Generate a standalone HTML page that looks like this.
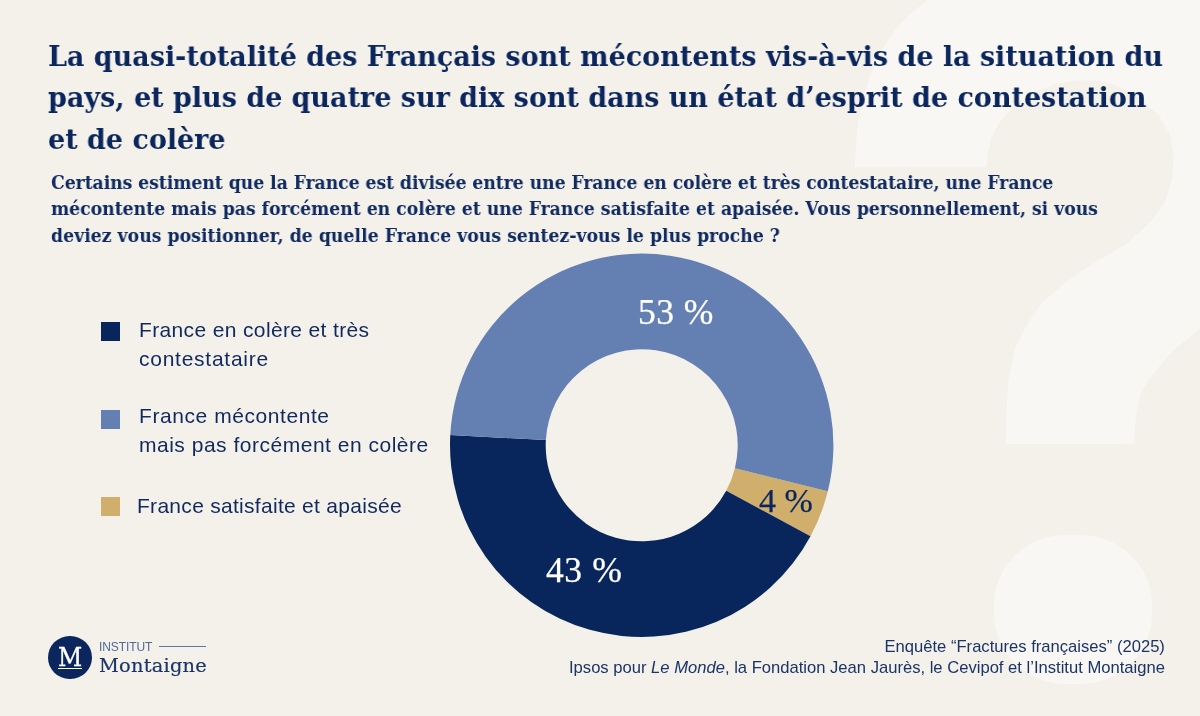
<!DOCTYPE html>
<html lang="fr">
<head>
<meta charset="utf-8">
<title>Fractures françaises 2025 – Institut Montaigne</title>
<style>
  html, body { margin: 0; padding: 0; }
  body { width: 1200px; height: 716px; overflow: hidden; background: #f4f1eb; }
  .slide { position: relative; width: 1200px; height: 716px; overflow: hidden; background: #f4f1eb; color: #0a265d; }
  .abs { position: absolute; white-space: nowrap; }
  h1, .question, .tx, .pct, .logo-m, .logo-inst, .logo-name, .source, .qmark { will-change: transform; }

  /* big decorative question mark watermark */
  .qmark { position: absolute; left: 814.2px; top: -185px; font-family: "Liberation Sans", "DejaVu Sans", sans-serif; font-weight: bold;
           font-size: 986px; line-height: 1; color: #f9f7f3; transform-origin: 0 0; transform: scaleX(0.895);
           clip-path: polygon(0 0, 700px 0, 700px 628.8px, 205px 628.8px, 205px 352.2px, 0 352.2px); }
  .qpatch { position: absolute; left: 0; top: 0; width: 1200px; height: 716px; background: #f9f7f3;
            clip-path: polygon(1100px 80.5px, 1111.7px 83.7px, 1139.7px 97.7px, 1159.2px 115.9px, 1170.4px 135.4px, 1173.7px 155px, 1171.8px 180px, 1164.8px 202.3px, 1150.8px 221.9px, 1125.7px 244.2px, 1092.2px 263.8px, 1064.2px 283.4px, 1041.9px 302.9px, 1026.5px 325.3px, 1015.4px 347.6px, 1008.4px 380px, 1006.5px 410px, 1005.6px 443.8px, 1134px 443.8px, 1136px 415px, 1140px 395px, 1148px 380px, 1156.4px 370px, 1173.2px 350.4px, 1200px 328px, 1200px 40px, 1035px 40px, 1005px 80px, 985px 105px, 975px 135px, 975px 167.2px, 987px 167.2px, 987.4px 153.9px, 991.3px 138.2px, 999.1px 122.6px, 1012.8px 106.9px, 1032.3px 93.2px, 1053.9px 84.4px, 1077.3px 80.5px); }
  .qpatch2 { position: absolute; left: 0; top: 0; width: 1200px; height: 716px; background: #f9f7f3;
            clip-path: polygon(855px 167.2px, 855.6px 150px, 857.7px 125.7px, 862.5px 100px, 870px 75px, 880.5px 52px, 895px 30px, 910px 14px, 928px 0px, 975px 0px, 915px 60px, 885px 120px, 870px 167.2px); }
  .qdot { position: absolute; left: 993.5px; top: 534.5px; width: 158.6px; height: 149.5px; background: #f9f7f3; border-radius: 72px / 70px; }

  h1 { margin: 0; position: absolute; left: 47.6px; top: 36.2px; white-space: nowrap;
       font-family: "DejaVu Serif", "Liberation Serif", serif; font-weight: bold; font-size: 28.6px; line-height: 41.25px;
       color: #0a265d; transform-origin: 0 0; transform: scaleX(0.943); }
  .question { margin: 0; position: absolute; left: 51px; top: 168.5px; white-space: nowrap;
       font-family: "DejaVu Serif", "Liberation Serif", serif; font-weight: bold; font-size: 18.8px; line-height: 26.4px;
       color: #0f2a61; transform-origin: 0 0; transform: scaleX(0.9174); }

  .legend { position: absolute; left: 0; top: 0; font-family: "Liberation Sans", "DejaVu Sans", sans-serif; font-size: 21px; line-height: 29px; color: #10295f; }
  .legend .sw { position: absolute; left: 101px; width: 19px; height: 19px; }
  .legend .tx { position: absolute; white-space: nowrap; letter-spacing: 0.25px; }

  .pct { position: absolute; white-space: nowrap; -webkit-text-stroke: 0.25px currentColor; font-family: "Liberation Serif", "DejaVu Serif", serif; font-size: 35.5px; line-height: 40px; }

  .logo-circle { position: absolute; left: 48px; top: 635.6px; width: 44px; height: 43.8px; border-radius: 50%; background: #0a265d; }
  .logo-m { position: absolute; left: 48px; top: 640.8px; -webkit-text-stroke: 0.35px #fff; width: 44px; text-align: center; color: #fff;
            font-family: "DejaVu Serif Condensed", "DejaVu Serif", "Liberation Serif", serif; font-size: 26.3px; line-height: 32px; }
  .logo-bar { position: absolute; left: 58px; top: 667.8px; width: 24px; height: 1.1px; background: #fff; }
  .logo-inst { position: absolute; left: 99.3px; top: 639px; letter-spacing: -0.08px; font-family: "Liberation Sans", "DejaVu Sans", sans-serif; font-size: 12px; line-height: 16px;
               color: #4f6898; white-space: nowrap; }
  .logo-line { position: absolute; left: 159px; top: 646.1px; width: 46.6px; height: 1.2px; background: #5f77a5; }
  .logo-name { position: absolute; left: 99.3px; top: 653px; letter-spacing: 0.22px; font-family: "DejaVu Serif", "Liberation Serif", serif; font-size: 19.4px; line-height: 26px;
               color: #1c3568; white-space: nowrap; -webkit-text-stroke: 0.2px #1c3568; }

  .source { position: absolute; right: 35.6px; top: 636.6px; text-align: right; white-space: nowrap;
            font-family: "Liberation Sans", "DejaVu Sans", sans-serif; font-size: 16.6px; line-height: 20.8px; color: #1a3468; }
</style>
</head>
<body>
<div class="slide">
  <div class="qmark" aria-hidden="true">?</div>
  <div class="qpatch"></div>
  <div class="qpatch2"></div>
  <div class="qdot"></div>

  <h1>La quasi-totalité des Français sont mécontents vis-à-vis de la situation du<br>pays, et plus de quatre sur dix sont dans un état d’esprit de contestation<br>et de colère</h1>

  <p class="question"><span style="letter-spacing:-0.047px">Certains estiment que la France est divisée entre une France en colère et très contestataire, une France</span><br>mécontente mais pas forcément en colère et une France satisfaite et apaisée. Vous personnellement, si vous<br><span style="letter-spacing:0.045px">deviez vous positionner, de quelle France vous sentez-vous le plus proche ?</span></p>

  <div class="legend">
    <div class="sw" style="top:322px;background:#08265c"></div>
    <div class="tx" style="left:139.2px;top:315px"><span style="letter-spacing:0.36px">France en colère et très</span><br><span style="letter-spacing:0.74px">contestataire</span></div>
    <div class="sw" style="top:409.6px;background:#647fb2"></div>
    <div class="tx" style="left:139.2px;top:401px"><span style="letter-spacing:0.57px">France mécontente</span><br><span style="letter-spacing:0.51px">mais pas forcément en colère</span></div>
    <div class="sw" style="top:496.5px;background:#d0ae6c"></div>
    <div class="tx" style="left:136.5px;top:491px"><span style="letter-spacing:0.29px">France satisfaite et apaisée</span></div>
  </div>

  <svg class="abs" style="left:0;top:0" width="1200" height="716" viewBox="0 0 1200 716">
    <path d="M827.79 491.35A191.7 191.7 0 0 1 810.49 536.18L726.23 490.81A96.0 96.0 0 0 0 734.89 468.36Z" fill="#d0ae6c"/>
    <path d="M810.49 536.18A191.7 191.7 0 0 1 450.28 434.93L545.84 440.11A96.0 96.0 0 0 0 726.23 490.81Z" fill="#08265c"/>
    <path d="M450.28 434.93A191.7 191.7 0 1 1 827.79 491.35L734.89 468.36A96.0 96.0 0 1 0 545.84 440.11Z" fill="#647fb2"/>
  </svg>

  <div class="pct" style="left:637.6px;top:292px;color:#fff;letter-spacing:0.45px">53 %</div>
  <div class="pct" style="left:545.5px;top:550px;color:#fff;letter-spacing:0.6px">43 %</div>
  <div class="pct" style="left:759px;top:480.7px;color:#0a265d;font-size:34px">4 %</div>

  <div class="logo-circle"></div>
  <div class="logo-m">M</div>
  <div class="logo-bar"></div>
  <div class="logo-inst">INSTITUT</div>
  <div class="logo-line"></div>
  <div class="logo-name">Montaigne</div>

  <div class="source">Enquête “Fractures françaises” (2025)<br>Ipsos pour <i>Le Monde</i>, la Fondation Jean Jaurès, le Cevipof et l’Institut Montaigne</div>
</div>
</body>
</html>
